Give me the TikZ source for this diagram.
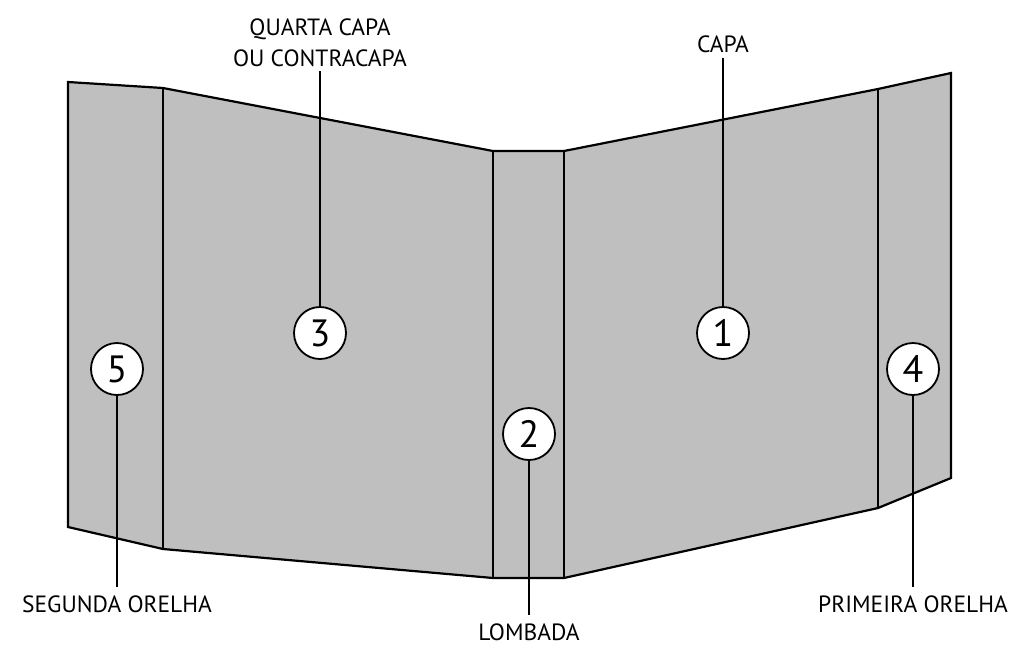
\documentclass[tikz,border=0pt]{standalone}
\usepackage{fontspec}
\setmainfont{PT Sans}
\begin{document}
\begin{tikzpicture}[x=1pt,y=-1pt,
  panel/.style={fill=black!25,draw=black,line width=2.2pt,line join=miter},
  fold/.style={draw=black,line width=2.2pt},
  num/.style={circle,draw=black,fill=white,line width=1.8pt,minimum size=52pt,inner sep=0pt,font=\fontsize{38}{38}\selectfont},
  lbl/.style={inner sep=0pt,font=\fontsize{23.5}{31}\selectfont,align=center},
  lead/.style={draw=black,line width=1.8pt}]
\useasboundingbox (0,0) rectangle (1024,664);
% outline
\path[panel] (68,82) -- (163,88) -- (493,151) -- (564,151) -- (878,89) -- (951,73)
  -- (951,478) -- (878,508) -- (564,578) -- (493,578) -- (163,549) -- (68,527) -- cycle;
\draw[fold] (163,88) -- (163,549);
\draw[fold] (493,151) -- (493,578);
\draw[fold] (564,151) -- (564,578);
\draw[fold] (878,89) -- (878,508);
% labels
\node[lbl] (l3) at (320,43) {QUARTA CAPA\\OU CONTRACAPA};
\node[lbl] (l1) at (723,44) {CAPA};
\node[lbl] (l5) at (117,604) {SEGUNDA ORELHA};
\node[lbl] (l2) at (529,632) {LOMBADA};
\node[lbl] (l4) at (913,604) {PRIMEIRA ORELHA};
% numbered circles
\node[num] (c3) at (320,333) {3};
\node[num] (c1) at (723,333) {1};
\node[num] (c5) at (117,369) {5};
\node[num] (c4) at (913,369) {4};
\node[num] (c2) at (529,434) {2};
% leaders
\draw[lead] (c3.north) -- ([yshift=-4pt]l3.south);
\draw[lead] (c1.north) -- ([yshift=-5pt]l1.south);
\draw[lead] (c5.south) -- ([yshift=8pt]l5.north);
\draw[lead] (c4.south) -- ([yshift=8pt]l4.north);
\draw[lead] (c2.south) -- ([yshift=8pt]l2.north);
\end{tikzpicture}
\end{document}
